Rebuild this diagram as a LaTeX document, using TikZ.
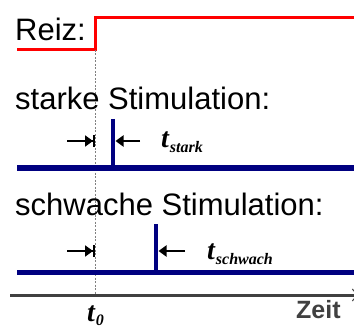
\documentclass[tikz,border=0pt]{standalone}
\usepackage{fontspec}
\setmainfont{Liberation Sans}
\newfontfamily\tms{Liberation Serif}
\usetikzlibrary{arrows.meta}
\definecolor{navyblue}{RGB}{0,0,128}
\definecolor{axisgray}{RGB}{64,64,64}
\begin{document}
\begin{tikzpicture}[x=1pt,y=-1pt,
  lbl/.style={anchor=base west, inner sep=0, font=\fontsize{31}{31}\selectfont},
  tlbl/.style={anchor=base west, inner sep=0, font=\tms\fontsize{28}{28}\selectfont\bfseries\itshape},
  signal/.style={navyblue, line width=5.5pt},
  spike/.style={navyblue, line width=4.5pt},
  leftarr/.style={black, line width=2.7pt, -{Triangle[length=8pt,width=11pt]Bar[width=12pt,line width=2pt]}},
  rightarr/.style={black, line width=2.7pt, -{Triangle[length=8pt,width=11pt]}},
  guide/.style={gray, line width=0.8pt, dash pattern=on 2pt off 1.5pt}
]
\useasboundingbox (0,0) rectangle (354,329);
\clip (0,0) rectangle (354,329);

% stimulus
\coordinate (r0) at (17,50);
\coordinate (r1) at (95,50);
\coordinate (r2) at (95,18);
\coordinate (r3) at (360,18);
\draw[red, line width=3pt] (r0) -- (r1) -- (r2) -- (r3);
\node[lbl] (reiz) at (15,41) {Reiz:};

% guide line at t0
\coordinate (g0) at (95,50);
\coordinate (g1) at (95,295);
\draw[guide] (g0) -- (g1);

% strong stimulation
\node[lbl] (starke) at (15,110) {starke Stimulation:};
\coordinate (s0) at (17,168);
\coordinate (s1) at (360,168);
\draw[signal] (s0) -- (s1);
\coordinate (sp0) at (113,119);
\coordinate (sp1) at (113,168);
\draw[spike] (sp0) -- (sp1);
\coordinate (a0) at (67,141);
\coordinate (a1) at (95,141);
\draw[leftarr] (a0) -- (a1);
\coordinate (b0) at (140,141);
\coordinate (b1) at (115.5,141);
\draw[rightarr] (b0) -- (b1);
\node[tlbl] (tstark) at (161,148) {t\kern1pt\raisebox{-5pt}{\fontsize{16}{16}\selectfont stark}};

% weak stimulation
\node[lbl] (schwache) at (15,215) {schwache Stimulation:};
\coordinate (w0) at (17,272.5);
\coordinate (w1) at (360,272.5);
\draw[signal] (w0) -- (w1);
\coordinate (wp0) at (156,224);
\coordinate (wp1) at (156,272.5);
\draw[spike] (wp0) -- (wp1);
\coordinate (c0) at (67,251);
\coordinate (c1) at (95,251);
\draw[leftarr] (c0) -- (c1);
\coordinate (d0) at (185,251);
\coordinate (d1) at (158.5,251);
\draw[rightarr] (d0) -- (d1);
\node[tlbl] (tschwach) at (207,259) {t\kern1pt\raisebox{-5pt}{\fontsize{16}{16}\selectfont schwach}};

% time axis
\coordinate (x0) at (10,295);
\coordinate (x1) at (358,295);
\draw[axisgray, line width=3pt, -{Straight Barb[length=5pt,width=12pt,line width=1pt]}] (x0) -- (x1);
\node[anchor=base west, inner sep=0, text=axisgray, font=\fontsize{25}{25}\selectfont\bfseries] (zeit) at (296,318) {Zeit};
\node[tlbl] (t0) at (87,321) {t\kern1pt\raisebox{-4pt}{\fontsize{16}{16}\selectfont 0}};
\end{tikzpicture}
\end{document}
